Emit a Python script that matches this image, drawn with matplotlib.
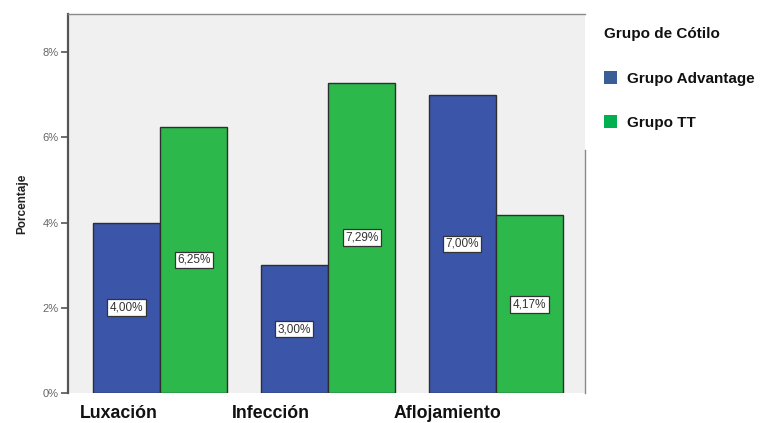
import matplotlib
matplotlib.use("Agg")
import matplotlib.pyplot as plt
from matplotlib.patches import Patch
import numpy as np

plt.rcParams["font.family"] = ["Liberation Sans", "DejaVu Sans"]

# Data
categories = ["Luxación", "Infección", "Aflojamiento"]
series_names = ["Grupo Advantage", "Grupo TT"]
advantage = [4.00, 3.00, 7.00]
tt = [6.25, 7.29, 4.17]
y_ticks = [0, 2, 4, 6, 8]

bar_colors = ["#3B55A9", "#2DB84C"]
legend_colors = ["#3A5F96", "#00B050"]
label_shift = [-0.48, -0.57, -0.61]  # category label offsets from group centre

fig = plt.figure(figsize=(7.61, 4.23), dpi=100)
ax = fig.add_axes([68 / 761, 30 / 423, (585 - 68) / 761, (393 - 14) / 423])
ax.set_facecolor("#F0F0F0")

x = np.arange(len(categories))
w = 0.4
for vals, off, col in [(advantage, -w / 2, bar_colors[0]), (tt, w / 2, bar_colors[1])]:
    bars = ax.bar(x + off, vals, width=w, color=col, edgecolor="#2E2E2E", linewidth=1.0, zorder=2)
    for b, v in zip(bars, vals):
        ax.text(b.get_x() + b.get_width() / 2, v / 2, f"{v:.2f}%".replace(".", ","),
                ha="center", va="center", fontsize=8.5, color="#333333", zorder=3,
                bbox=dict(boxstyle="square,pad=0.2", facecolor="white", edgecolor="#333333", linewidth=0.9))

ax.set_xlim(-0.549, 2.531)
ax.set_ylim(0, 8.9)
ax.set_yticks(y_ticks)
ax.set_yticklabels([f"{t}%" for t in y_ticks], fontsize=8, color="#666666")
ax.tick_params(axis="y", direction="out", length=5, width=1.2, color="#555555", pad=2)
ax.set_xticks([])

for cx, lab, sh in zip(x, categories, label_shift):
    ax.text(cx + sh, -0.47, lab, ha="left", va="center", fontsize=12.8, fontweight="bold",
            color="#111111", clip_on=False)

ax.set_ylabel("Porcentaje", fontsize=8.5, fontweight="bold", color="#222222", labelpad=10)

ax.spines["left"].set_color("#555555")
ax.spines["left"].set_linewidth(1.6)
ax.spines["top"].set_color("#8A8A8A")
ax.spines["top"].set_linewidth(1.0)
ax.spines["right"].set_color("#8A8A8A")
ax.spines["right"].set_linewidth(1.0)
ax.spines["right"].set_bounds(0, 5.7)
ax.spines["bottom"].set_visible(False)

handles = [Patch(facecolor=c, edgecolor="none") for c in legend_colors]
leg = fig.legend(handles, series_names, loc="upper left", bbox_to_anchor=(593 / 761, 1 - 16 / 423),
                 title="Grupo de Cótilo", frameon=False, handlelength=0.9, handleheight=0.9,
                 handletextpad=0.6, labelspacing=1.9, borderpad=0.2,
                 prop={"weight": "bold", "size": 11},
                 title_fontproperties={"weight": "bold", "size": 11})
leg._legend_box.align = "left"
leg._legend_box.sep = 22
leg.get_title().set_color("#111111")
for t in leg.get_texts():
    t.set_color("#111111")

fig.savefig("out.png", dpi=100)
